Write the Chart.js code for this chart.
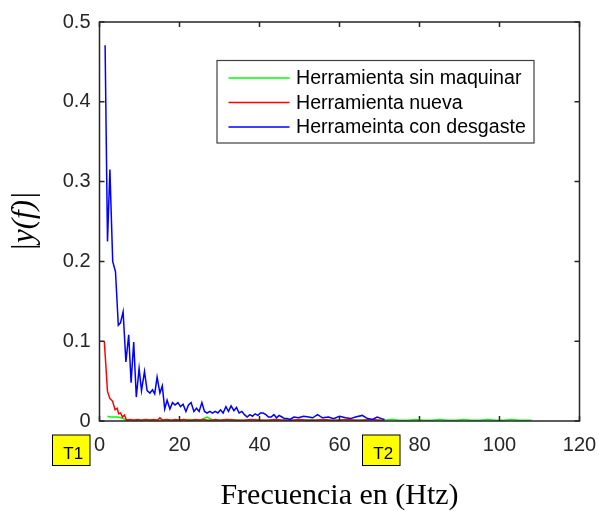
<!DOCTYPE html>
<html>
<head>
<meta charset="utf-8">
<script src="https://cdn.jsdelivr.net/npm/chart.js@4.4.1/dist/chart.umd.min.js"></script>
<style>
html,body{margin:0;padding:0;background:#fff;}
#wrap{width:599px;height:511px;position:relative;}
</style>
</head>
<body>
<div id="wrap"><canvas id="c"></canvas></div>
<script>
// ---- data ----
const seriesNames = ['Herramienta sin maquinar', 'Herramienta nueva', 'Herrameinta con desgaste'];
const seriesColors = ['#00ff00', '#ff0000', '#0000ff'];

const freqGreen = [2.0,2.75,3.5,4.5,5.5,6.3,7.0,8.0,9.0,10.5,12.0,13.5,15.0,16.5,18.0,19.5,21.0,22.5,24.0,25.5,26.9,28.0,29.5,31,33,35,37,39,41,43,45,47,49,51,53,55,57,59,61,63,65,67,69,71,73,75,77,79,81,83,85,87,89,91,93,95,97,99,101,103,105,107,108];
const magGreen  = [0.006,0.005,0.005,0.005,0.004,0.002,0.001,0.002,0.001,0.001,0.002,0.001,0.001,0.002,0.001,0.001,0.002,0.002,0.001,0.002,0.005,0.002,0.001,0.001,0.002,0.001,0.001,0.002,0.001,0.001,0.001,0.002,0.001,0.001,0.002,0.001,0.001,0.001,0.002,0.001,0.001,0.002,0.001,0.001,0.002,0.001,0.001,0.002,0.001,0.001,0.002,0.001,0.001,0.002,0.001,0.001,0.002,0.001,0.001,0.002,0.001,0.001,0.001];

const freqRed = [1.2,2.0,2.6,3.25,3.9,4.4,4.8,5.25,5.75,6.25,6.75,7.5,8.5,9.5,10.5,11.5,12.5,13.5,14.5,15.1,15.8,17,18,19,20,21,22,23,24,25,26,27,28,29,30,32,34,36,38,40,42,44,46,48,50,52,54,56,58,60,62,64,66,68,70,71.25];
const magRed  = [0.100,0.037,0.028,0.025,0.014,0.016,0.009,0.010,0.005,0.0075,0.001,0.002,0.001,0.002,0.001,0.002,0.001,0.002,0.001,0.004,0.001,0.002,0.001,0.002,0.001,0.002,0.001,0.001,0.002,0.001,0.002,0.001,0.001,0.002,0.001,0.002,0.001,0.001,0.002,0.001,0.001,0.002,0.001,0.001,0.002,0.001,0.001,0.002,0.001,0.001,0.002,0.001,0.001,0.002,0.001,0.001];

const freqBlue = [1.4,2.0,2.6,3.3,4.0,4.7,5.25,5.9,6.6,7.3,7.9,8.55,9.2,9.9,10.5,11.25,11.9,12.6,13.25,13.8,14.4,15.1,15.7,16.3,16.9,17.6,18.25,18.9,19.6,20.25,20.9,21.6,22.25,22.9,23.6,24.25,24.9,25.6,26.25,26.9,27.6,28.25,28.9,29.6,30.25,30.9,31.6,32.25,32.9,33.6,34.25,34.9,35.6,36.25,36.9,37.6,38.25,38.9,39.6,40.25,40.9,41.6,42.25,42.9,43.6,44.25,44.9,45.6,46.25,46.9,47.6,48.6,49.75,51,52.3,53.3,54.5,55.75,57.25,58.5,60,61.5,62.75,64,65.7,67,68.25,69.4,70.5,71.25];
const magBlue  = [0.471,0.225,0.315,0.200,0.187,0.120,0.123,0.137,0.074,0.108,0.048,0.099,0.030,0.066,0.038,0.062,0.038,0.035,0.039,0.034,0.055,0.035,0.044,0.015,0.026,0.015,0.023,0.020,0.023,0.018,0.021,0.012,0.020,0.023,0.012,0.016,0.012,0.023,0.012,0.010,0.012,0.010,0.012,0.010,0.014,0.010,0.018,0.012,0.019,0.013,0.017,0.010,0.012,0.008,0.005,0.008,0.006,0.009,0.007,0.010,0.010,0.008,0.005,0.005,0.008,0.004,0.007,0.005,0.003,0.003,0.002,0.005,0.004,0.006,0.005,0.004,0.008,0.004,0.005,0.003,0.006,0.004,0.003,0.005,0.007,0.003,0.002,0.005,0.003,0.002];

const xTicks = [0,20,40,60,80,100,120];
const yTicks = [0,0.1,0.2,0.3,0.4,0.5];
const annotTexts = ['T1','T2'];
const annotX = [-11.75, 65.75];

const xTitle = 'Frecuencia en (Htz)';
const yTitle = '|y(f)|';

// ---- build datasets ----
function pts(fs, ms){ return fs.map((f,i)=>({x:f, y:ms[i]})); }
const allFreq = [freqGreen, freqRed, freqBlue];
const allMag = [magGreen, magRed, magBlue];
const datasets = seriesNames.map((n,i)=>({
  label:n,
  data: pts(allFreq[i], allMag[i]),
  borderColor: seriesColors[i],
  backgroundColor: seriesColors[i],
  borderWidth: 1.5,
  pointRadius: 0,
  tension: 0,
  order: 3 - i
}));

const AX = '#262626';

const framePlugin = {
  id:'frame',
  afterDatasetsDraw(chart){
    const {ctx, chartArea:a, scales:{x, y}} = chart;
    ctx.save();
    ctx.strokeStyle = AX;
    ctx.lineWidth = 1.5;
    ctx.strokeRect(a.left, a.top, a.right - a.left, a.bottom - a.top);
    ctx.beginPath();
    const L = 5;
    x.ticks.forEach(t=>{
      const p = x.getPixelForValue(t.value);
      ctx.moveTo(p, a.bottom); ctx.lineTo(p, a.bottom - L);
      ctx.moveTo(p, a.top); ctx.lineTo(p, a.top + L);
    });
    y.ticks.forEach(t=>{
      const p = y.getPixelForValue(t.value);
      ctx.moveTo(a.left, p); ctx.lineTo(a.left + L, p);
      ctx.moveTo(a.right, p); ctx.lineTo(a.right - L, p);
    });
    ctx.stroke();
    ctx.restore();
  },
  afterDraw(chart){
    const {ctx, chartArea:a, scales:{x, y}} = chart;
    ctx.save();
    // legend box
    const lx = a.left + 117.5, ly = a.top + 38.5, lw = 317, lh = 82.5;
    ctx.fillStyle = '#ffffff';
    ctx.fillRect(lx, ly, lw, lh);
    ctx.strokeStyle = '#404040';
    ctx.lineWidth = 1.2;
    ctx.strokeRect(lx, ly, lw, lh);
    ctx.font = '19.6px "Liberation Sans", Arial, sans-serif';
    ctx.textBaseline = 'middle';
    ctx.textAlign = 'left';
    chart.data.datasets.forEach((ds, i)=>{
      const ry = ly + 17.5 + i * 24.5;
      ctx.strokeStyle = ds.borderColor;
      ctx.lineWidth = 1.5;
      ctx.beginPath();
      ctx.moveTo(lx + 11.5, ry); ctx.lineTo(lx + 72.5, ry);
      ctx.stroke();
      ctx.fillStyle = '#000000';
      ctx.fillText(ds.label, lx + 79, ry + 1);
    });
    // T1 / T2 annotation boxes
    const by = a.bottom + 14, bh = 30.5, bw = 37.5;
    annotTexts.forEach((t, i)=>{
      const bx = x.getPixelForValue(annotX[i]);
      ctx.fillStyle = '#ffff00';
      ctx.fillRect(bx, by, bw, bh);
      ctx.strokeStyle = '#000000';
      ctx.lineWidth = 1;
      ctx.strokeRect(bx, by, bw, bh);
      ctx.fillStyle = '#000000';
      ctx.font = '17px "Liberation Sans", Arial, sans-serif';
      ctx.textAlign = 'center';
      ctx.textBaseline = 'alphabetic';
      ctx.fillText(t, bx + bw/2 + 2, by + 24);
    });
    ctx.restore();
  }
};

new Chart(document.getElementById('c'), {
  type:'line',
  data:{ datasets },
  options:{
    responsive:true,
    maintainAspectRatio:false,
    animation:false,
    layout:{ padding:{ top:22, right:19.5, left:0, bottom:0 } },
    plugins:{ legend:{display:false}, tooltip:{enabled:false} },
    scales:{
      x:{
        type:'linear', min:0, max:120,
        afterBuildTicks(s){ s.ticks = xTicks.map(v=>({value:v})); },
        afterFit(s){ s.height = 90; s.paddingLeft = 0; s.paddingRight = 0; },
        grid:{ display:false, drawTicks:false },
        border:{ display:false },
        ticks:{ color:AX, padding:12, maxRotation:0, font:{ family:'"Liberation Sans", Arial, sans-serif', size:20 } },
        title:{ display:true, text:xTitle, color:'#000', padding:{top:0,bottom:0}, font:{ family:'"Liberation Serif", "Times New Roman", serif', size:30, lineHeight:1.0 } }
      },
      y:{
        type:'linear', min:0, max:0.5,
        afterBuildTicks(s){ s.ticks = yTicks.map(v=>({value:v})); },
        afterFit(s){ s.width = 99.5; s.paddingTop = 0; s.paddingBottom = 0; },
        grid:{ display:false, drawTicks:false },
        border:{ display:false },
        ticks:{ color:AX, padding:9, font:{ family:'"Liberation Sans", Arial, sans-serif', size:20 } },
        title:{ display:true, text:yTitle, color:'#000', padding:{top:6,bottom:0}, font:{ family:'"Liberation Serif", "Times New Roman", serif', size:31, style:'italic' } }
      }
    }
  },
  plugins:[framePlugin]
});
</script>
</body>
</html>
